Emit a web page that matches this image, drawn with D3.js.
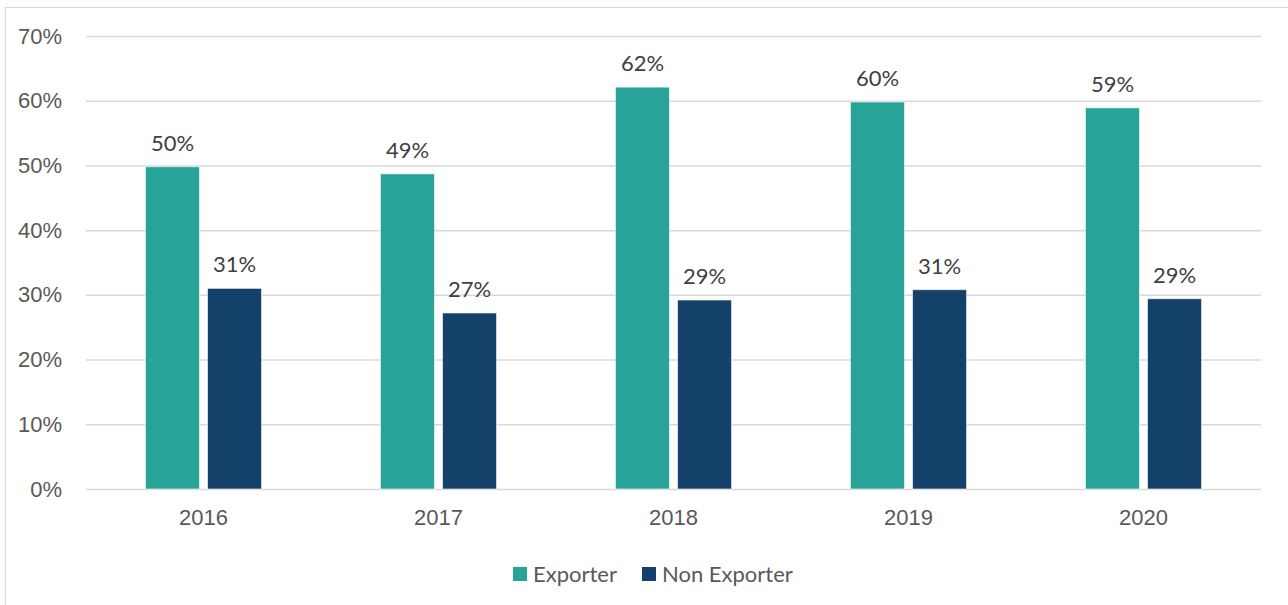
<!DOCTYPE html>
<html>
<head>
<meta charset="utf-8">
<script src="https://cdn.jsdelivr.net/npm/d3@7"></script>
<style>
  html, body { margin: 0; padding: 0; background: #fff; }
  svg { display: block; font-family: Lato, "Open Sans", sans-serif; }
</style>
</head>
<body>
<svg id="chart" width="1288" height="605"></svg>
<script>
// Share of firms, by year and export status
const years = ["2016", "2017", "2018", "2019", "2020"];
const seriesNames = ["Exporter", "Non Exporter"];
const exporter = [0.498, 0.487, 0.621, 0.598, 0.589];
const nonExporter = [0.310, 0.272, 0.292, 0.308, 0.294];
const yTicks = [0, 0.1, 0.2, 0.3, 0.4, 0.5, 0.6, 0.7];
const colors = ["#27a398", "#13416a"];

const svg = d3.select("#chart");
const margin = { left: 86, right: 27, top: 36, bottom: 116 };
const W = 1288, H = 605;

// outer frame
svg.append("rect")
  .attr("x", 5.5).attr("y", 7.5)
  .attr("width", W + 20).attr("height", H + 20)
  .attr("fill", "none").attr("stroke", "#d9d9d9").attr("stroke-width", 1.2);

const x0 = d3.scaleBand()
  .domain(years)
  .range([margin.left, W - margin.right])
  .paddingInner(0.506)
  .paddingOuter(0.253);

const x1 = d3.scaleBand()
  .domain(seriesNames)
  .range([0, x0.bandwidth()])
  .paddingInner(0.13)
  .paddingOuter(0);

const y = d3.scaleLinear()
  .domain([0, 0.7])
  .range([H - margin.bottom, margin.top]);

const pct = d3.format(".0%");
const fontSize = "22px";

// gridlines + y labels
const yAxis = d3.axisLeft(y)
  .tickValues(yTicks)
  .tickFormat(pct)
  .tickSize(-(W - margin.left - margin.right))
  .tickPadding(24);

const gy = svg.append("g")
  .attr("transform", `translate(${margin.left},0)`)
  .call(yAxis);
gy.select(".domain").remove();
gy.selectAll(".tick line").attr("stroke", "#d9d9d9").attr("stroke-width", 1.5);
gy.selectAll(".tick text")
  .attr("fill", "#595959")
  .style("font-size", fontSize);

// x labels
const xAxis = d3.axisBottom(x0).tickSize(0).tickPadding(20);
const gx = svg.append("g")
  .attr("transform", `translate(0,${y(0)})`)
  .call(xAxis);
gx.select(".domain").remove();
gx.selectAll(".tick text")
  .attr("fill", "#595959")
  .style("font-size", fontSize);

// bars
const rows = years.map((yr, i) => ({
  year: yr,
  values: [
    { key: seriesNames[0], value: exporter[i], color: colors[0] },
    { key: seriesNames[1], value: nonExporter[i], color: colors[1] }
  ]
}));

const groups = svg.append("g").selectAll("g")
  .data(rows)
  .join("g")
  .attr("transform", d => `translate(${x0(d.year)},0)`);

groups.selectAll("rect")
  .data(d => d.values)
  .join("rect")
  .attr("x", d => x1(d.key))
  .attr("y", d => y(d.value))
  .attr("width", x1.bandwidth())
  .attr("height", d => y(0) - y(d.value))
  .attr("fill", d => d.color)
  .attr("stroke", "#ffffff")
  .attr("stroke-opacity", 0.6)
  .attr("stroke-width", 1);

groups.selectAll("text")
  .data(d => d.values)
  .join("text")
  .attr("x", d => x1(d.key) + x1.bandwidth() / 2)
  .attr("y", d => y(d.value) - 16)
  .attr("text-anchor", "middle")
  .attr("fill", "#404040")
  .style("font-size", fontSize)
  .text(d => pct(d.value));

// legend
const legend = svg.append("g").attr("transform", "translate(513,574)");
const legendOffsets = [0, 129];
seriesNames.forEach((name, i) => {
  const g = legend.append("g").attr("transform", `translate(${legendOffsets[i]},0)`);
  g.append("rect")
    .attr("x", 0).attr("y", -7)
    .attr("width", 14).attr("height", 14)
    .attr("fill", colors[i]);
  g.append("text")
    .attr("x", 20).attr("y", 0)
    .attr("dy", "0.35em")
    .attr("fill", "#595959")
    .style("font-size", fontSize)
    .text(name);
});
</script>
</body>
</html>
